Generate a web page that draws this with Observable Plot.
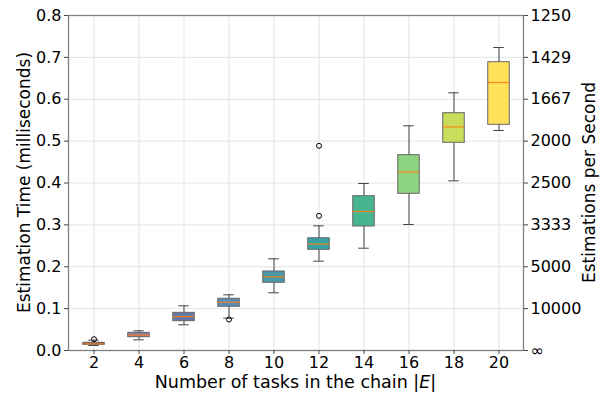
<!DOCTYPE html>
<html><head><meta charset="utf-8">
<script src="https://cdn.jsdelivr.net/npm/d3@7"></script>
<script src="https://cdn.jsdelivr.net/npm/@observablehq/plot@0.6"></script>
<style>body{margin:0;background:#fff;font-family:"DejaVu Sans",sans-serif}</style>
</head><body><div id="chart"></div><script>
const tasks = [2, 4, 6, 8, 10, 12, 14, 16, 18, 20];
const whiskerLow = [0.012, 0.0255, 0.0614, 0.0771, 0.1378, 0.2133, 0.2443, 0.3009, 0.4052, 0.5254];
const quart1 = [0.0136, 0.0318, 0.070, 0.1044, 0.1617, 0.2405, 0.2961, 0.3742, 0.496, 0.539];
const median = [0.016, 0.0366, 0.081, 0.1153, 0.176, 0.2539, 0.332, 0.4258, 0.534, 0.640];
const quart3 = [0.0184, 0.0422, 0.090, 0.1235, 0.1887, 0.268, 0.3685, 0.4664, 0.5667, 0.6885];
const whiskerHigh = [0.0246, 0.047, 0.1067, 0.133, 0.219, 0.2977, 0.3988, 0.5366, 0.6154, 0.7236];
const outlierTasks = [2, 8, 12, 12];
const outlierValues = [0.027, 0.074, 0.3216, 0.4888];
const yTicks = [0, 0.1, 0.2, 0.3, 0.4, 0.5, 0.6, 0.7, 0.8];
const palette = ["#6a3f7a", "#8a7db0", "#6677aa", "#5a8db6", "#4a98ac", "#36a2a2", "#47b590", "#8ed480", "#c9dc5c", "#ffe25a"];

const rows = tasks.map((t, i) => ({t, lo: whiskerLow[i], q1: quart1[i], med: median[i], q3: quart3[i], hi: whiskerHigh[i]}));
const outRows = outlierTasks.map((t, i) => ({t, v: outlierValues[i]}));

const W = 610, H = 395, mL = 68, mR = 87, mT = 15, mB = 45;
const bw = (W - mL - mR) / tasks.length;
const boxInset = (bw - 22) / 2;
const capInset = (bw - 11) / 2;
const whisk = "#444";

const chart = Plot.plot({
  width: W, height: H, marginLeft: mL, marginRight: mR, marginTop: mT, marginBottom: mB,
  style: {fontFamily: "DejaVu Sans", fontSize: "16px", color: "#000", background: "#fff", overflow: "visible"},
  x: {type: "band", domain: tasks, padding: 0},
  y: {domain: [0, 0.8]},
  color: {type: "ordinal", range: palette, domain: tasks},
  marks: [
    Plot.gridY(yTicks, {stroke: "#e3e3e3", strokeOpacity: 1}),
    Plot.gridX(tasks, {stroke: "#e3e3e3", strokeOpacity: 1}),
    Plot.ruleX(rows, {x: "t", y1: "lo", y2: "q1", stroke: whisk}),
    Plot.ruleX(rows, {x: "t", y1: "q3", y2: "hi", stroke: whisk}),
    Plot.tickY(rows, {x: "t", y: "lo", insetLeft: capInset, insetRight: capInset, stroke: whisk}),
    Plot.tickY(rows, {x: "t", y: "hi", insetLeft: capInset, insetRight: capInset, stroke: whisk}),
    Plot.barY(rows, {x: "t", y1: "q1", y2: "q3", fill: "t", stroke: "#666", strokeWidth: 1, insetLeft: boxInset, insetRight: boxInset}),
    Plot.tickY(rows, {x: "t", y: "med", insetLeft: boxInset, insetRight: boxInset, stroke: "#ff7f0e", strokeOpacity: 0.85, strokeWidth: 1.3}),
    Plot.dot(outRows, {x: "t", y: "v", r: 2.5, stroke: "#000", fill: "none", strokeWidth: 1}),
    Plot.frame({stroke: "#808080", strokeWidth: 1.3}),
    Plot.axisX(tasks, {tickSize: 4, tickPadding: 2, label: null, stroke: "#444"}),
    Plot.axisY(yTicks, {tickFormat: d => d.toFixed(1), tickSize: 4, tickPadding: 3, label: null, stroke: "#444"}),
    Plot.axisY(yTicks, {anchor: "right", tickFormat: d => d === 0 ? "∞" : String(Math.round(1000 / d)), tickSize: 4, tickPadding: 3, label: null, stroke: "#444"})
  ]
});

const svg = d3.select(chart);
const cy = (mT + (H - mB)) / 2;
svg.append("text").attr("transform", `translate(25,${cy}) rotate(-90)`)
  .attr("text-anchor", "middle").attr("dominant-baseline", "middle")
  .style("font-size", "17px").attr("fill", "#000").text("Estimation Time (milliseconds)");
svg.append("text").attr("transform", `translate(590,${cy}) rotate(-90)`)
  .attr("text-anchor", "middle").attr("dominant-baseline", "middle")
  .style("font-size", "17px").attr("fill", "#000").text("Estimations per Second");
const xl = svg.append("text").attr("x", (mL + W - mR) / 2).attr("y", 388)
  .attr("text-anchor", "middle").style("font-size", "17.5px").attr("fill", "#000");
xl.append("tspan").text("Number of tasks in the chain |");
xl.append("tspan").style("font-style", "italic").text("E");
xl.append("tspan").text("|");

document.getElementById("chart").appendChild(chart);
</script></body></html>
